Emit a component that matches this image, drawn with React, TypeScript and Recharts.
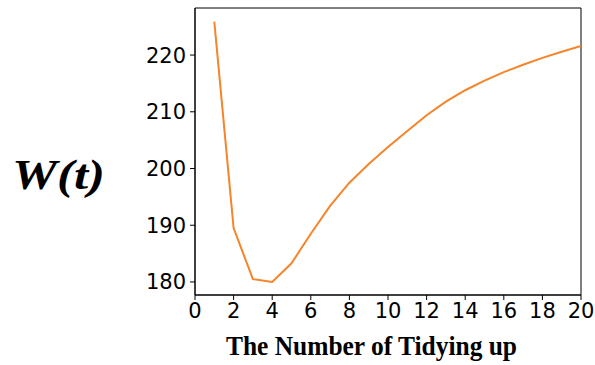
import { LineChart, Line, XAxis, YAxis, ReferenceArea } from 'recharts';

// number of tidying-up steps and the resulting W(t)
const steps = [1, 2, 3, 4, 5, 6, 7, 8, 9, 10, 11, 12, 13, 14, 15, 16, 17, 18, 19, 20];
const wValues = [
  225.9, 189.5, 180.5, 180.0, 183.3, 188.5, 193.4, 197.5, 200.8, 203.8,
  206.6, 209.4, 211.8, 213.8, 215.5, 217.0, 218.3, 219.5, 220.6, 221.6,
];
const xTicks = [0, 2, 4, 6, 8, 10, 12, 14, 16, 18, 20];
const yTicks = [180, 190, 200, 210, 220];
const xDomain = [0, 20];
const yDomain = [177.7, 228.3];

const data = steps.map((t, i) => ({ t, w: wValues[i] }));

const tickStyle = { fontSize: 21, fontFamily: 'DejaVu Sans', fill: '#000' };

const App = () => {
  return (
    <div style={{ position: 'absolute', left: 0, top: 0, width: 595, height: 365, background: '#fff' }}>
      <LineChart width={595} height={365} data={data} margin={{ top: 8, right: 14, left: 135, bottom: 40 }}>
        <XAxis
          dataKey="t"
          type="number"
          domain={xDomain}
          ticks={xTicks}
          interval={0}
          height={30}
          stroke="#000"
          tickSize={5}
          tickMargin={3}
          tick={tickStyle}
          allowDataOverflow
        />
        <YAxis
          type="number"
          domain={yDomain}
          ticks={yTicks}
          interval={0}
          width={60}
          stroke="#000"
          tickSize={5}
          tickMargin={4}
          tick={tickStyle}
          allowDataOverflow
        />
        {/* frame for top and right spines */}
        <ReferenceArea
          x1={xDomain[0]}
          x2={xDomain[1]}
          y1={yDomain[0]}
          y2={yDomain[1]}
          fill="none"
          stroke="#000"
          strokeWidth={1}
          ifOverflow="visible"
        />
        <Line
          type="linear"
          dataKey="w"
          stroke="#f5842a"
          strokeWidth={2}
          dot={false}
          isAnimationActive={false}
        />
      </LineChart>
      <svg width={595} height={365} style={{ position: 'absolute', left: 0, top: 0, pointerEvents: 'none' }}>
        <text
          x={12}
          y={189}
          textLength={93}
          lengthAdjust="spacingAndGlyphs"
          style={{ fontFamily: 'Liberation Serif', fontWeight: 'bold', fontStyle: 'italic', fontSize: 42 }}
        >
          W(t)
        </text>
        <text
          x={226}
          y={355}
          textLength={291}
          lengthAdjust="spacingAndGlyphs"
          style={{ fontFamily: 'Liberation Serif', fontWeight: 'bold', fontSize: 28 }}
        >
          The Number of Tidying up
        </text>
      </svg>
    </div>
  );
};

export default App;
